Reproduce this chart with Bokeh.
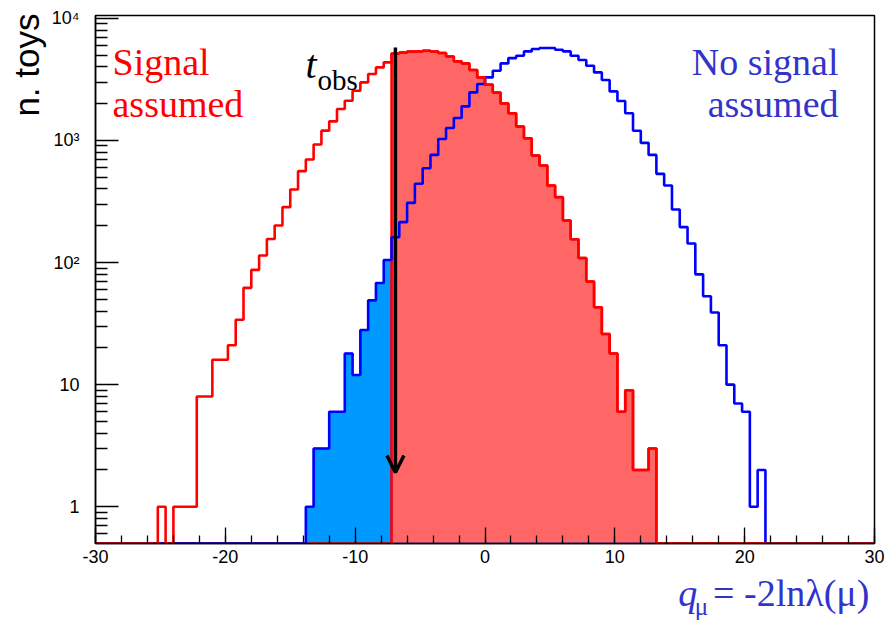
import numpy as np
from bokeh.plotting import figure
from bokeh.layouts import column
from bokeh.models import Range1d, FixedTicker, Label, Arrow, OpenHead, Title
from bokeh.embed import file_html
from bokeh.resources import INLINE

# ---------------- data ----------------
x_min, x_max, n_bins = -30.0, 30.0, 100
y_min, y_max = 0.5, 10540.0
t_obs = -6.9

signal_counts = [
    0, 0, 0, 0, 0, 0, 0, 0, 1, 0,
    1, 1, 1, 8, 8, 16, 16, 21, 34, 62,
    87, 114, 156, 201, 284, 396, 560, 697, 925, 1202,
    1432, 1808, 2113, 2552, 2985, 3497, 3963, 4355, 5150, 5250,
    5350, 5350, 5420, 5350, 5190, 4870, 4440, 4270, 3770, 3280,
    2860, 2470, 2010, 1667, 1297, 1040, 751, 623, 427, 343,
    221, 155, 109, 70, 43, 26, 18, 6, 9, 2,
    2, 3, 0, 0, 0, 0, 0, 0, 0, 0,
    0, 0, 0, 0, 0, 0, 0, 0, 0, 0,
    0, 0, 0, 0, 0, 0, 0, 0, 0, 0,
]
nosignal_counts = [
    0, 0, 0, 0, 0, 0, 0, 0, 0, 0,
    0, 0, 0, 0, 0, 0, 0, 0, 0, 0,
    0, 0, 0, 0, 0, 0, 0, 1, 3, 3,
    6, 6, 18, 12, 28, 49, 68, 105, 161, 214,
    308, 441, 591, 761, 1028, 1265, 1527, 1901, 2472, 2897,
    3280, 3722, 4270, 4720, 4930, 5355, 5600, 5710, 5710, 5525,
    5355, 4930, 4550, 4090, 3605, 3125, 2520, 2100, 1667, 1200,
    955, 761, 532, 427, 272, 195, 143, 80, 53, 39,
    21, 10, 7, 6, 1, 2, 0, 0, 0, 0,
    0, 0, 0, 0, 0, 0, 0, 0, 0, 0,
]
x_ticks = [-30, -20, -10, 0, 10, 20, 30]
x_tick_labels = ["-30", "-20", "-10", "0", "10", "20", "30"]
y_ticks = [1, 10, 100, 1000, 10000]
y_tick_labels = ["1", "10", "10²", "10³", "10⁴"]

# ---------------- helpers ----------------
edges = np.linspace(x_min, x_max, n_bins + 1)
bw = edges[1] - edges[0]
cut = int(np.floor((t_obs - x_min) / bw))
idx = np.arange(n_bins)
sig = np.array(signal_counts, float)
nos = np.array(nosignal_counts, float)
sig_right = np.where(idx >= cut, sig, 0.0)
nos_left = np.where(idx < cut, nos, 0.0)


def step_y(arr):
    a = np.where(arr > 0, arr, y_min)
    return np.append(a, a[-1])


# canvas-pixel -> data (annotation placement only)
W = 893
H_MAIN = 571
H_TITLE = 620 - H_MAIN
FL, FR, FT, FB = 95, 874, 15, 543
BASE_SHIFT = 0.33  # empirical offset of the rendered baseline, in em


def px2x(px):
    return x_min + (px - FL) / (FR - FL) * (x_max - x_min)


def px2y(py):
    lo, hi = np.log10(y_min), np.log10(y_max)
    return 10 ** (lo + (FB - py) / (FB - FT) * (hi - lo))


p = figure(width=W, height=H_MAIN, y_axis_type="log",
           x_range=Range1d(x_min, x_max), y_range=Range1d(y_min, y_max),
           output_backend="svg", toolbar_location=None,
           min_border_left=FL, min_border_right=W - FR,
           min_border_top=FT, min_border_bottom=H_MAIN - FB)
p.background_fill_color = "white"
p.border_fill_color = "white"
p.outline_line_color = "black"
p.outline_line_width = 1.5
p.xgrid.visible = False
p.ygrid.visible = False

RED = "#FF0000"
BLUE = "#0000FF"
RED_FILL = "#FF6666"
BLUE_FILL = "#0099FF"
TXT_BLUE = "#3333CC"

# fills
p.varea_step(x=edges, y1=y_min, y2=step_y(nos_left), step_mode="after",
             fill_color=BLUE_FILL)
p.varea_step(x=edges, y1=y_min, y2=step_y(sig_right), step_mode="after",
             fill_color=RED_FILL)
# outlines of shaded histograms
p.step(x=edges, y=step_y(nos_left), mode="after", line_color=BLUE, line_width=1.5)
p.step(x=edges, y=step_y(sig_right), mode="after", line_color=RED, line_width=2.5)
# main histograms
p.step(x=edges, y=step_y(nos), mode="after", line_color=BLUE, line_width=2.6)
p.step(x=edges, y=step_y(sig), mode="after", line_color=RED, line_width=2.6)

# arrow at t_obs
p.add_layout(Arrow(end=OpenHead(size=17, line_width=3.5, line_color="black"),
                   x_start=t_obs, y_start=px2y(47), x_end=t_obs, y_end=px2y(472),
                   line_width=3.5, line_color="black"))

# axes
for ax in p.xaxis:
    ax.ticker = FixedTicker(ticks=x_ticks, minor_ticks=list(np.arange(x_min, x_max + 1, 2)))
    ax.major_label_overrides = {t: l for t, l in zip(x_ticks, x_tick_labels)}
    ax.major_tick_in = 16
    ax.major_tick_out = 0
    ax.minor_tick_in = 8
    ax.minor_tick_out = 0
    ax.major_label_standoff = 6
    ax.axis_label_standoff = 0
    ax.major_label_text_font = "Liberation Sans"
    ax.major_label_text_font_size = "18px"
    ax.major_label_text_color = "black"
    ax.axis_line_width = 1.5
    ax.major_tick_line_width = 1.3
    ax.minor_tick_line_width = 1.3

minor_y = [0.6, 0.7, 0.8, 0.9] + [m * 10 ** e for e in range(4) for m in range(2, 10)]
for ax in p.yaxis:
    ax.ticker = FixedTicker(ticks=y_ticks, minor_ticks=minor_y)
    ax.major_label_overrides = {t: l for t, l in zip(y_ticks, y_tick_labels)}
    ax.major_tick_in = 23
    ax.major_tick_out = 0
    ax.minor_tick_in = 12
    ax.minor_tick_out = 0
    ax.major_label_standoff = 16
    ax.axis_label_standoff = 0
    ax.major_label_text_font = "Liberation Sans"
    ax.major_label_text_font_size = "18px"
    ax.major_label_text_color = "black"
    ax.axis_line_width = 1.5
    ax.major_tick_line_width = 1.3
    ax.minor_tick_line_width = 1.3

# y-axis title, placed at the top end of the axis
p.add_layout(Title(text="n. toys", align="right", text_font="Liberation Sans",
                   text_font_size="35px", text_font_style="normal",
                   text_color="black", standoff=5, offset=-2), "left")


def lab(fig, text, px, py, size, color, align="left", style="normal", log_y=True):
    """Place a label with its alphabetic baseline at canvas pixel (px, py)."""
    py_adj = py - BASE_SHIFT * size
    if log_y:
        x, y = px2x(px), px2y(py_adj)
    else:
        x, y = px, py_adj - H_MAIN
    fig.add_layout(Label(x=x, y=y, text=text, text_font="Liberation Serif",
                         text_font_size=f"{size}px", text_color=color, text_align=align,
                         text_baseline="alphabetic", text_font_style=style))


lab(p, "Signal", 112, 74, 38, RED)
lab(p, "assumed", 112, 116, 38, RED)
lab(p, "No signal", 838, 74, 38, TXT_BLUE, align="right")
lab(p, "assumed", 838, 116, 38, TXT_BLUE, align="right")
lab(p, "t", 305, 77, 40, "black", style="italic")
lab(p, "obs", 317, 89, 29, "black")

# strip below the main plot for the x-axis title (y measured downward from its top)
p2 = figure(width=W, height=H_TITLE, x_range=Range1d(0, W), y_range=Range1d(H_TITLE, 0),
            output_backend="svg", toolbar_location=None,
            x_axis_location=None, y_axis_location=None,
            min_border=0, min_border_left=0, min_border_right=0,
            min_border_top=0, min_border_bottom=0)
p2.outline_line_color = None
p2.grid.visible = False
p2.background_fill_color = "white"
p2.border_fill_color = "white"

lab(p2, "q", 668, 605, 38, TXT_BLUE, style="italic", log_y=False)
lab(p2, "μ", 687, 614, 25, TXT_BLUE, log_y=False)
lab(p2, "= -2lnλ(μ)", 708, 605, 38, TXT_BLUE, log_y=False)

layout = column(p, p2, spacing=0)
open("out.html", "w").write(file_html(layout, INLINE))
